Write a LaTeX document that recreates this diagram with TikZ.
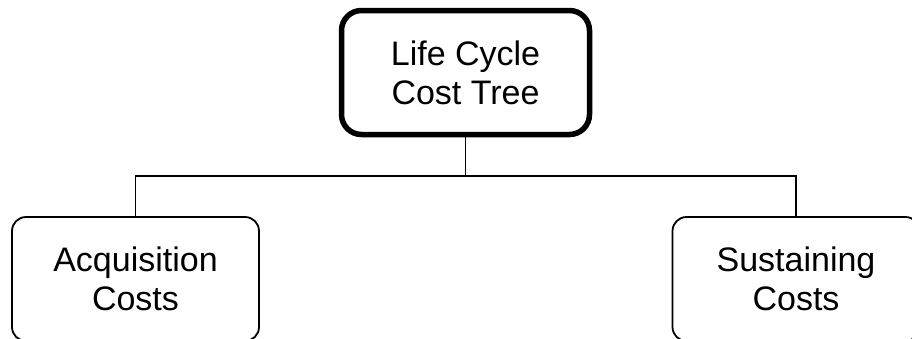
\documentclass[tikz,border=0pt]{standalone}
\usepackage{fontspec}
\setmainfont{Liberation Sans}
\begin{document}
\begin{tikzpicture}[x=1pt,y=1pt,
  box/.style={draw=black, fill=white, rounded corners=14pt, line width=1.8pt, align=center,
    font=\fontsize{34}{39}\selectfont, inner sep=0pt, minimum height=124pt},
  rootbox/.style={box, line width=5.5pt, rounded corners=20pt},
  conn/.style={draw=black, line width=1.8pt}]
\useasboundingbox (0,0) rectangle (912,-338);
\clip (0,0) rectangle (912,-338);
\node[rootbox, minimum width=248pt] (root) at (465.5,-72.5) {Life Cycle\\Cost Tree};
\node[box, minimum width=247pt] (acq) at (135.5,-279) {Acquisition\\Costs};
\node[box, minimum width=247pt] (sus) at (796,-279) {Sustaining\\Costs};
\coordinate (hub) at (465.5,-176);
\draw[conn] (root.south) -- (hub);
\draw[conn] (hub) -| (acq.north);
\draw[conn] (hub) -| (sus.north);
\end{tikzpicture}
\end{document}
